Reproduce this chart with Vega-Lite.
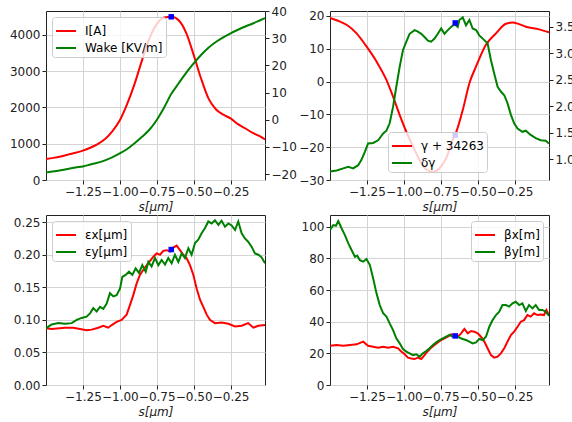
{
"$schema": "https://vega.github.io/schema/vega-lite/v6.json",
"padding": {"left": 8, "top": 4, "right": 0, "bottom": 0},
"config": {
 "font": "DejaVu Sans",
 "view": {"stroke": "#222", "strokeWidth": 1},
 "axis": {"labelFontSize": 12, "titleFontSize": 12, "labelColor": "#222", "titleColor": "#222", "tickColor": "#222", "tickSize": 4, "labelPadding": 2, "domain": false, "gridColor": "#d4d4d4", "gridWidth": 1, "titleFontWeight": "normal", "labelOverlap": false, "labelFlush": false},
 "legend": {"title": null, "fillColor": "rgba(255,255,255,0.8)", "strokeColor": "#cccccc", "cornerRadius": 3, "padding": 3, "symbolType": "stroke", "symbolSize": 400, "symbolStrokeWidth": 2, "labelFontSize": 12, "labelColor": "#000", "rowPadding": 0, "labelOffset": 8, "offset": 6}
},
"datasets": {
 "p1I": [{"s":-1.5,"v":580},{"s":-1.45,"v":610},{"s":-1.4,"v":650},{"s":-1.35,"v":700},{"s":-1.3,"v":750},{"s":-1.25,"v":810},{"s":-1.2,"v":890},{"s":-1.15,"v":990},{"s":-1.1,"v":1130},{"s":-1.05,"v":1350},{"s":-1.0,"v":1650},{"s":-0.95,"v":2100},{"s":-0.9,"v":2650},{"s":-0.85,"v":3300},{"s":-0.8,"v":3900},{"s":-0.75,"v":4300},{"s":-0.7,"v":4480},{"s":-0.65,"v":4500},{"s":-0.6,"v":4400},{"s":-0.55,"v":4050},{"s":-0.5,"v":3450},{"s":-0.45,"v":2800},{"s":-0.4,"v":2250},{"s":-0.35,"v":1950},{"s":-0.3,"v":1800},{"s":-0.25,"v":1700},{"s":-0.2,"v":1540},{"s":-0.15,"v":1420},{"s":-0.1,"v":1300},{"s":-0.05,"v":1200},{"s":-0.017,"v":1120}],
 "p1W": [{"s":-1.5,"v":-19.4},{"s":-1.4,"v":-18.6},{"s":-1.3,"v":-17.6},{"s":-1.25,"v":-17.2},{"s":-1.2,"v":-16.5},{"s":-1.1,"v":-15.0},{"s":-1.0,"v":-12.4},{"s":-0.95,"v":-10.8},{"s":-0.9,"v":-8.7},{"s":-0.85,"v":-6.3},{"s":-0.8,"v":-3.7},{"s":-0.75,"v":-0.1},{"s":-0.7,"v":4.5},{"s":-0.65,"v":9.6},{"s":-0.6,"v":13.5},{"s":-0.55,"v":17.3},{"s":-0.5,"v":20.7},{"s":-0.45,"v":23.8},{"s":-0.4,"v":26.5},{"s":-0.35,"v":28.6},{"s":-0.3,"v":30.3},{"s":-0.25,"v":31.8},{"s":-0.2,"v":33.1},{"s":-0.15,"v":34.3},{"s":-0.1,"v":35.4},{"s":-0.05,"v":36.6},{"s":-0.017,"v":37.4}],
 "p1M": [{"s":-0.652,"v":4500}],
 "p2G": [{"s":-1.5,"v":19.4},{"s":-1.45,"v":18.6},{"s":-1.388,"v":17.3},{"s":-1.32,"v":14.7},{"s":-1.253,"v":10.7},{"s":-1.185,"v":6.1},{"s":-1.118,"v":0.5},{"s":-1.073,"v":-4.6},{"s":-1.028,"v":-10.2},{"s":-0.983,"v":-15.3},{"s":-0.938,"v":-19.8},{"s":-0.893,"v":-23.9},{"s":-0.848,"v":-26.8},{"s":-0.803,"v":-27.5},{"s":-0.758,"v":-26.4},{"s":-0.714,"v":-23.4},{"s":-0.669,"v":-17.8},{"s":-0.646,"v":-15.5},{"s":-0.601,"v":-8.7},{"s":-0.556,"v":-0.5},{"s":-0.511,"v":4.6},{"s":-0.444,"v":11.2},{"s":-0.376,"v":14.7},{"s":-0.309,"v":17.6},{"s":-0.264,"v":18.0},{"s":-0.22,"v":17.5},{"s":-0.174,"v":16.7},{"s":-0.084,"v":15.9},{"s":-0.017,"v":15.0}],
 "p2D": [{"s":-1.5,"v":0.77},{"s":-1.455,"v":0.79},{"s":-1.41,"v":0.83},{"s":-1.376,"v":0.86},{"s":-1.343,"v":0.83},{"s":-1.309,"v":0.89},{"s":-1.287,"v":0.99},{"s":-1.264,"v":1.14},{"s":-1.242,"v":1.3},{"s":-1.208,"v":1.31},{"s":-1.174,"v":1.36},{"s":-1.14,"v":1.49},{"s":-1.118,"v":1.54},{"s":-1.096,"v":1.68},{"s":-1.073,"v":1.99},{"s":-1.051,"v":2.37},{"s":-1.028,"v":2.75},{"s":-1.006,"v":3.06},{"s":-0.983,"v":3.22},{"s":-0.961,"v":3.37},{"s":-0.927,"v":3.44},{"s":-0.905,"v":3.41},{"s":-0.882,"v":3.37},{"s":-0.86,"v":3.31},{"s":-0.837,"v":3.24},{"s":-0.815,"v":3.22},{"s":-0.792,"v":3.28},{"s":-0.77,"v":3.37},{"s":-0.747,"v":3.47},{"s":-0.725,"v":3.37},{"s":-0.702,"v":3.44},{"s":-0.68,"v":3.5},{"s":-0.657,"v":3.55},{"s":-0.635,"v":3.5},{"s":-0.624,"v":3.63},{"s":-0.601,"v":3.68},{"s":-0.579,"v":3.53},{"s":-0.556,"v":3.63},{"s":-0.534,"v":3.47},{"s":-0.511,"v":3.44},{"s":-0.489,"v":3.34},{"s":-0.455,"v":3.25},{"s":-0.433,"v":3.19},{"s":-0.41,"v":2.87},{"s":-0.388,"v":2.62},{"s":-0.365,"v":2.37},{"s":-0.343,"v":2.28},{"s":-0.32,"v":2.21},{"s":-0.298,"v":2.06},{"s":-0.275,"v":1.84},{"s":-0.253,"v":1.68},{"s":-0.23,"v":1.58},{"s":-0.197,"v":1.52},{"s":-0.174,"v":1.54},{"s":-0.141,"v":1.46},{"s":-0.107,"v":1.4},{"s":-0.073,"v":1.36},{"s":-0.039,"v":1.35},{"s":-0.017,"v":1.3}],
 "p2MD": [{"s":-0.652,"v":3.575}],
 "p2MG": [{"s":-0.652,"v":-16.3}],
 "p3X": [{"s":-1.5,"v":0.087},{"s":-1.462,"v":0.086},{"s":-1.371,"v":0.088},{"s":-1.315,"v":0.088},{"s":-1.27,"v":0.086},{"s":-1.225,"v":0.084},{"s":-1.191,"v":0.085},{"s":-1.146,"v":0.088},{"s":-1.112,"v":0.091},{"s":-1.078,"v":0.088},{"s":-1.055,"v":0.092},{"s":-1.022,"v":0.097},{"s":-0.988,"v":0.1},{"s":-0.954,"v":0.108},{"s":-0.931,"v":0.123},{"s":-0.909,"v":0.138},{"s":-0.886,"v":0.156},{"s":-0.864,"v":0.169},{"s":-0.841,"v":0.177},{"s":-0.807,"v":0.187},{"s":-0.773,"v":0.197},{"s":-0.751,"v":0.202},{"s":-0.728,"v":0.2},{"s":-0.706,"v":0.206},{"s":-0.683,"v":0.207},{"s":-0.66,"v":0.205},{"s":-0.638,"v":0.211},{"s":-0.615,"v":0.214},{"s":-0.593,"v":0.207},{"s":-0.57,"v":0.2},{"s":-0.548,"v":0.195},{"s":-0.525,"v":0.184},{"s":-0.502,"v":0.169},{"s":-0.48,"v":0.148},{"s":-0.457,"v":0.131},{"s":-0.435,"v":0.12},{"s":-0.412,"v":0.108},{"s":-0.39,"v":0.1},{"s":-0.356,"v":0.095},{"s":-0.311,"v":0.096},{"s":-0.265,"v":0.094},{"s":-0.22,"v":0.09},{"s":-0.175,"v":0.091},{"s":-0.131,"v":0.095},{"s":-0.096,"v":0.088},{"s":-0.062,"v":0.091},{"s":-0.017,"v":0.092}],
 "p3Y": [{"s":-1.5,"v":0.087},{"s":-1.462,"v":0.093},{"s":-1.416,"v":0.095},{"s":-1.371,"v":0.094},{"s":-1.326,"v":0.095},{"s":-1.292,"v":0.1},{"s":-1.259,"v":0.103},{"s":-1.225,"v":0.105},{"s":-1.202,"v":0.11},{"s":-1.18,"v":0.118},{"s":-1.157,"v":0.113},{"s":-1.134,"v":0.12},{"s":-1.112,"v":0.117},{"s":-1.089,"v":0.125},{"s":-1.067,"v":0.141},{"s":-1.044,"v":0.136},{"s":-1.022,"v":0.138},{"s":-0.999,"v":0.148},{"s":-0.983,"v":0.166},{"s":-0.961,"v":0.169},{"s":-0.938,"v":0.174},{"s":-0.915,"v":0.169},{"s":-0.893,"v":0.179},{"s":-0.87,"v":0.172},{"s":-0.848,"v":0.184},{"s":-0.825,"v":0.174},{"s":-0.807,"v":0.189},{"s":-0.785,"v":0.182},{"s":-0.762,"v":0.195},{"s":-0.739,"v":0.184},{"s":-0.717,"v":0.192},{"s":-0.694,"v":0.185},{"s":-0.672,"v":0.195},{"s":-0.649,"v":0.187},{"s":-0.627,"v":0.2},{"s":-0.604,"v":0.189},{"s":-0.581,"v":0.202},{"s":-0.559,"v":0.195},{"s":-0.536,"v":0.21},{"s":-0.514,"v":0.2},{"s":-0.491,"v":0.218},{"s":-0.469,"v":0.223},{"s":-0.446,"v":0.233},{"s":-0.423,"v":0.241},{"s":-0.401,"v":0.251},{"s":-0.378,"v":0.248},{"s":-0.356,"v":0.253},{"s":-0.333,"v":0.246},{"s":-0.311,"v":0.252},{"s":-0.288,"v":0.243},{"s":-0.265,"v":0.248},{"s":-0.243,"v":0.245},{"s":-0.22,"v":0.238},{"s":-0.198,"v":0.251},{"s":-0.175,"v":0.233},{"s":-0.153,"v":0.225},{"s":-0.131,"v":0.22},{"s":-0.107,"v":0.212},{"s":-0.085,"v":0.202},{"s":-0.062,"v":0.2},{"s":-0.04,"v":0.196},{"s":-0.017,"v":0.187}],
 "p3M": [{"s":-0.652,"v":0.208}],
 "p4X": [{"s":-1.5,"v":24.8},{"s":-1.455,"v":25.3},{"s":-1.41,"v":24.8},{"s":-1.365,"v":25.3},{"s":-1.32,"v":25.7},{"s":-1.275,"v":27.4},{"s":-1.242,"v":24.8},{"s":-1.208,"v":24.2},{"s":-1.174,"v":23.6},{"s":-1.14,"v":24.2},{"s":-1.107,"v":23.6},{"s":-1.073,"v":24.2},{"s":-1.039,"v":23.2},{"s":-1.017,"v":21.1},{"s":-0.994,"v":19.4},{"s":-0.972,"v":17.3},{"s":-0.949,"v":16.8},{"s":-0.927,"v":16.4},{"s":-0.905,"v":17.3},{"s":-0.882,"v":16.4},{"s":-0.86,"v":18.9},{"s":-0.837,"v":21.5},{"s":-0.815,"v":23.6},{"s":-0.792,"v":25.3},{"s":-0.77,"v":26.9},{"s":-0.747,"v":28.4},{"s":-0.725,"v":29.5},{"s":-0.702,"v":30.5},{"s":-0.68,"v":32.0},{"s":-0.657,"v":31.6},{"s":-0.635,"v":30.5},{"s":-0.612,"v":32.6},{"s":-0.59,"v":35.4},{"s":-0.567,"v":32.6},{"s":-0.545,"v":34.1},{"s":-0.523,"v":33.7},{"s":-0.5,"v":32.6},{"s":-0.478,"v":30.5},{"s":-0.455,"v":27.4},{"s":-0.433,"v":23.2},{"s":-0.41,"v":18.9},{"s":-0.388,"v":17.3},{"s":-0.365,"v":17.9},{"s":-0.343,"v":20.0},{"s":-0.32,"v":23.2},{"s":-0.298,"v":27.4},{"s":-0.275,"v":31.6},{"s":-0.253,"v":33.7},{"s":-0.23,"v":36.8},{"s":-0.208,"v":40.0},{"s":-0.186,"v":41.0},{"s":-0.163,"v":44.2},{"s":-0.141,"v":43.2},{"s":-0.118,"v":45.3},{"s":-0.096,"v":44.2},{"s":-0.073,"v":44.6},{"s":-0.051,"v":44.2},{"s":-0.035,"v":47.4},{"s":-0.017,"v":44.2}],
 "p4Y": [{"s":-1.5,"v":97.9},{"s":-1.478,"v":101},{"s":-1.46,"v":100.6},{"s":-1.444,"v":103.6},{"s":-1.421,"v":98.9},{"s":-1.399,"v":94.7},{"s":-1.376,"v":89.5},{"s":-1.354,"v":85.3},{"s":-1.331,"v":81.0},{"s":-1.316,"v":81.7},{"s":-1.298,"v":78.9},{"s":-1.275,"v":77.9},{"s":-1.253,"v":79.6},{"s":-1.23,"v":75.8},{"s":-1.208,"v":67.4},{"s":-1.185,"v":57.9},{"s":-1.163,"v":50.5},{"s":-1.14,"v":45.3},{"s":-1.118,"v":43.2},{"s":-1.096,"v":38.9},{"s":-1.073,"v":34.7},{"s":-1.051,"v":29.5},{"s":-1.028,"v":26.3},{"s":-1.006,"v":22.7},{"s":-0.983,"v":21.1},{"s":-0.961,"v":20.0},{"s":-0.938,"v":18.9},{"s":-0.916,"v":19.4},{"s":-0.893,"v":17.9},{"s":-0.871,"v":20.0},{"s":-0.848,"v":21.5},{"s":-0.826,"v":23.2},{"s":-0.803,"v":25.3},{"s":-0.781,"v":26.9},{"s":-0.758,"v":28.4},{"s":-0.736,"v":29.5},{"s":-0.714,"v":30.5},{"s":-0.691,"v":31.6},{"s":-0.669,"v":30.5},{"s":-0.646,"v":31.2},{"s":-0.624,"v":29.9},{"s":-0.601,"v":29.1},{"s":-0.579,"v":28.4},{"s":-0.556,"v":27.4},{"s":-0.534,"v":26.3},{"s":-0.511,"v":26.9},{"s":-0.489,"v":29.1},{"s":-0.466,"v":28.4},{"s":-0.444,"v":30.5},{"s":-0.421,"v":36.8},{"s":-0.399,"v":41.0},{"s":-0.376,"v":44.2},{"s":-0.354,"v":46.3},{"s":-0.332,"v":50.5},{"s":-0.309,"v":50.5},{"s":-0.287,"v":49.5},{"s":-0.264,"v":51.6},{"s":-0.242,"v":52.6},{"s":-0.219,"v":50.5},{"s":-0.197,"v":51.6},{"s":-0.174,"v":46.7},{"s":-0.152,"v":50.5},{"s":-0.129,"v":48.4},{"s":-0.107,"v":50.5},{"s":-0.084,"v":47.4},{"s":-0.062,"v":47.4},{"s":-0.039,"v":46.3},{"s":-0.017,"v":43.6}],
 "p4M": [{"s":-0.652,"v":31}]
},
"columns": 2,
"spacing": {"row": 35, "column": 65},
"bounds": "flush",
"resolve": {"scale": {"color": "independent"}},
"concat": [
  {"width": 219, "height": 169,
   "layer": [
    {"data": {"name": "p1I"}, "mark": {"type": "line", "strokeWidth": 2, "interpolate": "monotone", "clip": true},
     "encoding": {
      "x": {"field": "s", "type": "quantitative", "scale": {"domain": [-1.5, -0.017], "nice": false, "zero": false}, "axis": {"values": [-1.25, -1, -0.75, -0.5, -0.25], "format": ".2f", "title": "s[μm]", "titleFontStyle": "italic", "grid": true}},
      "y": {"field": "v", "type": "quantitative", "scale": {"domain": [0, 4660], "nice": false, "zero": false}, "axis": {"values": [0, 1000, 2000, 3000, 4000], "format": "d", "title": null, "grid": true, "orient": "left"}},
      "color": {"datum": "I[A]", "type": "nominal", "scale": {"domain": ["I[A]", "Wake [KV/m]"], "range": ["#ff0000", "#008000"]}, "legend": {"orient": "top-left"}}}},
    {"data": {"name": "p1M"}, "mark": {"type": "square", "color": "#0000ff", "size": 30, "opacity": 1},
     "encoding": {
      "x": {"field": "s", "type": "quantitative", "scale": {"domain": [-1.5, -0.017], "nice": false, "zero": false}, "axis": {"values": [-1.25, -1, -0.75, -0.5, -0.25], "format": ".2f", "title": "s[μm]", "titleFontStyle": "italic", "grid": true}},
      "y": {"field": "v", "type": "quantitative", "scale": {"domain": [0, 4660], "nice": false, "zero": false}, "axis": null}}},
    {"data": {"name": "p1W"}, "mark": {"type": "line", "strokeWidth": 2, "interpolate": "monotone", "clip": true},
     "encoding": {
      "x": {"field": "s", "type": "quantitative", "scale": {"domain": [-1.5, -0.017], "nice": false, "zero": false}, "axis": {"values": [-1.25, -1, -0.75, -0.5, -0.25], "format": ".2f", "title": "s[μm]", "titleFontStyle": "italic", "grid": true}},
      "y": {"field": "v", "type": "quantitative", "scale": {"domain": [-22.2, 40], "nice": false, "zero": false}, "axis": {"values": [-20, -10, 0, 10, 20, 30, 40], "format": "d", "title": null, "grid": false, "orient": "right"}},
      "color": {"datum": "Wake [KV/m]", "type": "nominal"}}}
   ],
   "resolve": {"scale": {"y": "independent"}, "axis": {"y": "independent"}}},
  {"width": 219, "height": 169,
   "layer": [
    {"data": {"name": "p2G"}, "mark": {"type": "line", "strokeWidth": 2, "interpolate": "monotone", "clip": true},
     "encoding": {
      "x": {"field": "s", "type": "quantitative", "scale": {"domain": [-1.5, -0.017], "nice": false, "zero": false}, "axis": {"values": [-1.25, -1, -0.75, -0.5, -0.25], "format": ".2f", "title": "s[μm]", "titleFontStyle": "italic", "grid": true}},
      "y": {"field": "v", "type": "quantitative", "scale": {"domain": [-30, 21.5], "nice": false, "zero": false}, "axis": {"values": [-30, -20, -10, 0, 10, 20], "format": "d", "title": null, "grid": true, "orient": "left"}},
      "color": {"datum": "γ + 34263", "type": "nominal", "scale": {"domain": ["γ + 34263", "δγ"], "range": ["#ff0000", "#008000"]}, "legend": {"orient": "none", "legendX": 58, "legendY": 121}}}},
    {"data": {"name": "p2MG"}, "mark": {"type": "square", "color": "#0000ff", "size": 30, "opacity": 1},
     "encoding": {
      "x": {"field": "s", "type": "quantitative", "scale": {"domain": [-1.5, -0.017], "nice": false, "zero": false}, "axis": {"values": [-1.25, -1, -0.75, -0.5, -0.25], "format": ".2f", "title": "s[μm]", "titleFontStyle": "italic", "grid": true}},
      "y": {"field": "v", "type": "quantitative", "scale": {"domain": [-30, 21.5], "nice": false, "zero": false}, "axis": null}}},
    {"data": {"name": "p2D"}, "mark": {"type": "line", "strokeWidth": 2, "clip": true},
     "encoding": {
      "x": {"field": "s", "type": "quantitative", "scale": {"domain": [-1.5, -0.017], "nice": false, "zero": false}, "axis": {"values": [-1.25, -1, -0.75, -0.5, -0.25], "format": ".2f", "title": "s[μm]", "titleFontStyle": "italic", "grid": true}},
      "y": {"field": "v", "type": "quantitative", "scale": {"domain": [0.61, 3.8], "nice": false, "zero": false}, "axis": {"values": [1.0, 1.5, 2.0, 2.5, 3.0, 3.5], "format": ".1f", "title": null, "grid": false, "orient": "right"}},
      "color": {"datum": "δγ", "type": "nominal"}}},
    {"data": {"name": "p2MD"}, "mark": {"type": "square", "color": "#0000ff", "size": 30, "opacity": 1},
     "encoding": {
      "x": {"field": "s", "type": "quantitative", "scale": {"domain": [-1.5, -0.017], "nice": false, "zero": false}, "axis": {"values": [-1.25, -1, -0.75, -0.5, -0.25], "format": ".2f", "title": "s[μm]", "titleFontStyle": "italic", "grid": true}},
      "y": {"field": "v", "type": "quantitative", "scale": {"domain": [0.61, 3.8], "nice": false, "zero": false}, "axis": null}}}
   ],
   "resolve": {"scale": {"y": "independent"}, "axis": {"y": "independent"}}},
  {"width": 219, "height": 170,
   "layer": [
    {"data": {"name": "p3X"}, "mark": {"type": "line", "strokeWidth": 2, "clip": true},
     "encoding": {
      "x": {"field": "s", "type": "quantitative", "scale": {"domain": [-1.5, -0.017], "nice": false, "zero": false}, "axis": {"values": [-1.25, -1, -0.75, -0.5, -0.25], "format": ".2f", "title": "s[μm]", "titleFontStyle": "italic", "grid": true}},
      "y": {"field": "v", "type": "quantitative", "scale": {"domain": [0, 0.261], "nice": false, "zero": false}, "axis": {"values": [0, 0.05, 0.1, 0.15, 0.2, 0.25], "format": ".2f", "title": null, "grid": true, "orient": "left"}},
      "color": {"datum": "εx[μm]", "type": "nominal", "scale": {"domain": ["εx[μm]", "εy[μm]"], "range": ["#ff0000", "#008000"]}, "legend": {"orient": "top-left"}}}},
    {"data": {"name": "p3Y"}, "mark": {"type": "line", "strokeWidth": 2, "clip": true},
     "encoding": {
      "x": {"field": "s", "type": "quantitative", "scale": {"domain": [-1.5, -0.017], "nice": false, "zero": false}, "axis": {"values": [-1.25, -1, -0.75, -0.5, -0.25], "format": ".2f", "title": "s[μm]", "titleFontStyle": "italic", "grid": true}},
      "y": {"field": "v", "type": "quantitative", "scale": {"domain": [0, 0.261], "nice": false, "zero": false}, "axis": {"values": [0, 0.05, 0.1, 0.15, 0.2, 0.25], "format": ".2f", "title": null, "grid": true, "orient": "left"}},
      "color": {"datum": "εy[μm]", "type": "nominal"}}},
    {"data": {"name": "p3M"}, "mark": {"type": "square", "color": "#0000ff", "size": 30, "opacity": 1},
     "encoding": {
      "x": {"field": "s", "type": "quantitative", "scale": {"domain": [-1.5, -0.017], "nice": false, "zero": false}, "axis": {"values": [-1.25, -1, -0.75, -0.5, -0.25], "format": ".2f", "title": "s[μm]", "titleFontStyle": "italic", "grid": true}},
      "y": {"field": "v", "type": "quantitative", "scale": {"domain": [0, 0.261], "nice": false, "zero": false}, "axis": {"values": [0, 0.05, 0.1, 0.15, 0.2, 0.25], "format": ".2f", "title": null, "grid": true, "orient": "left"}}}}
   ]},
  {"width": 219, "height": 170,
   "layer": [
    {"data": {"name": "p4X"}, "mark": {"type": "line", "strokeWidth": 2, "clip": true},
     "encoding": {
      "x": {"field": "s", "type": "quantitative", "scale": {"domain": [-1.5, -0.017], "nice": false, "zero": false}, "axis": {"values": [-1.25, -1, -0.75, -0.5, -0.25], "format": ".2f", "title": "s[μm]", "titleFontStyle": "italic", "grid": true}},
      "y": {"field": "v", "type": "quantitative", "scale": {"domain": [0, 107.4], "nice": false, "zero": false}, "axis": {"values": [0, 20, 40, 60, 80, 100], "format": "d", "title": null, "grid": true, "orient": "left"}},
      "color": {"datum": "βx[m]", "type": "nominal", "scale": {"domain": ["βx[m]", "βy[m]"], "range": ["#ff0000", "#008000"]}, "legend": {"orient": "top-right"}}}},
    {"data": {"name": "p4Y"}, "mark": {"type": "line", "strokeWidth": 2, "clip": true},
     "encoding": {
      "x": {"field": "s", "type": "quantitative", "scale": {"domain": [-1.5, -0.017], "nice": false, "zero": false}, "axis": {"values": [-1.25, -1, -0.75, -0.5, -0.25], "format": ".2f", "title": "s[μm]", "titleFontStyle": "italic", "grid": true}},
      "y": {"field": "v", "type": "quantitative", "scale": {"domain": [0, 107.4], "nice": false, "zero": false}, "axis": {"values": [0, 20, 40, 60, 80, 100], "format": "d", "title": null, "grid": true, "orient": "left"}},
      "color": {"datum": "βy[m]", "type": "nominal"}}},
    {"data": {"name": "p4M"}, "mark": {"type": "square", "color": "#0000ff", "size": 30, "opacity": 1},
     "encoding": {
      "x": {"field": "s", "type": "quantitative", "scale": {"domain": [-1.5, -0.017], "nice": false, "zero": false}, "axis": {"values": [-1.25, -1, -0.75, -0.5, -0.25], "format": ".2f", "title": "s[μm]", "titleFontStyle": "italic", "grid": true}},
      "y": {"field": "v", "type": "quantitative", "scale": {"domain": [0, 107.4], "nice": false, "zero": false}, "axis": {"values": [0, 20, 40, 60, 80, 100], "format": "d", "title": null, "grid": true, "orient": "left"}}}}
   ]}
]
}
